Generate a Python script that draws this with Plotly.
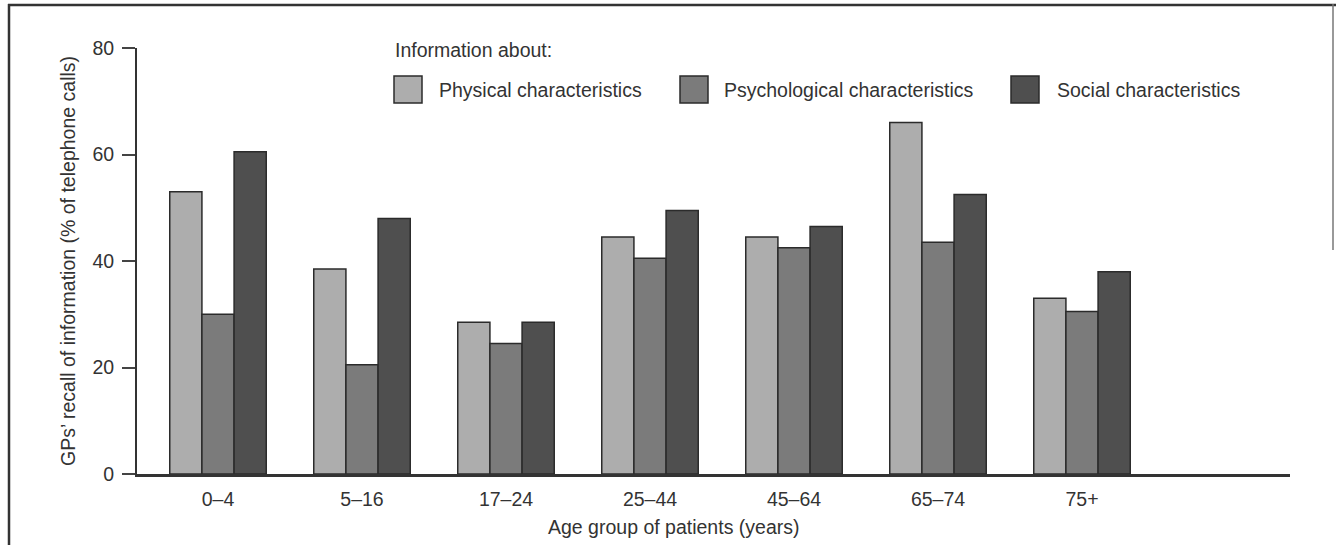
import plotly.graph_objects as go

# ---- data ----
age_groups = ["0–4", "5–16", "17–24", "25–44", "45–64", "65–74", "75+"]
series_names = ["Physical characteristics", "Psychological characteristics", "Social characteristics"]
physical = [53, 38.5, 28.5, 44.5, 44.5, 66, 33]
psychological = [30, 20.5, 24.5, 40.5, 42.5, 43.5, 30.5]
social = [60.5, 48, 28.5, 49.5, 46.5, 52.5, 38]
y_ticks = [0, 20, 40, 60, 80]

series_values = [physical, psychological, social]
fills = ["#adadad", "#7b7b7b", "#4f4f4f"]
edge = "#2b2b2b"
text_col = "#333333"
FONT = "Liberation Sans, Arial, sans-serif"
FS = 19.5

W, H = 1336, 545
# plot area in page pixels
L, R, T, B = 137, 1290, 48, 474


def px(x):
    return (x - L) / (R - L)


def py(y):
    return (B - y) / (B - T)


fig = go.Figure()
for name, vals, col in zip(series_names, series_values, fills):
    fig.add_trace(go.Bar(
        x=list(range(len(age_groups))), y=vals, name=name,
        marker=dict(color=col, line=dict(color=edge, width=1.5)),
        showlegend=False,
    ))

shapes = []
annotations = []

# frame around the figure
shapes.append(dict(type="line", xref="paper", yref="paper", x0=px(9), x1=px(9), y0=py(4), y1=py(545),
                   line=dict(color="#333333", width=2.5)))
shapes.append(dict(type="line", xref="paper", yref="paper", x0=px(8), x1=px(1336), y0=py(5), y1=py(5),
                   line=dict(color="#333333", width=2.5)))
shapes.append(dict(type="line", xref="paper", yref="paper", x0=px(1333), x1=px(1333), y0=py(4), y1=py(250),
                   line=dict(color="#777777", width=1.5)))

# manual legend
annotations.append(dict(text="Information about:", xref="paper", yref="paper", x=px(393), y=py(50),
                        xanchor="left", yanchor="middle", showarrow=False,
                        font=dict(family=FONT, size=FS, color=text_col)))
box_x = [394, 680, 1011]
text_x = [437, 722, 1055]
for name, col, bx, tx in zip(series_names, fills, box_x, text_x):
    shapes.append(dict(type="rect", xref="paper", yref="paper", x0=px(bx), x1=px(bx + 28),
                       y0=py(103), y1=py(76), fillcolor=col, line=dict(color=edge, width=1.5)))
    annotations.append(dict(text=name, xref="paper", yref="paper", x=px(tx), y=py(90),
                            xanchor="left", yanchor="middle", showarrow=False,
                            font=dict(family=FONT, size=FS, color=text_col)))

# axis titles
annotations.append(dict(text="GPs’ recall of information (% of telephone calls)", xref="paper", yref="paper",
                        x=px(68), y=0.5, textangle=-90, xanchor="center", yanchor="middle", showarrow=False,
                        font=dict(family=FONT, size=FS, color=text_col)))
annotations.append(dict(text="Age group of patients (years)", xref="paper", yref="paper",
                        x=px(673), y=py(527), xanchor="center", yanchor="middle", showarrow=False,
                        font=dict(family=FONT, size=FS, color=text_col)))

fig.update_layout(
    width=W, height=H,
    margin=dict(l=L, r=W - R, t=T, b=H - B, pad=0),
    paper_bgcolor="white", plot_bgcolor="white",
    barmode="group", bargap=0.33, bargroupgap=0,
    shapes=shapes, annotations=annotations,
    font=dict(family=FONT, size=FS, color=text_col),
)
fig.update_xaxes(
    range=[(L - 218) / 144, (R - 218) / 144],
    tickmode="array", tickvals=list(range(len(age_groups))), ticktext=age_groups,
    showgrid=False, zeroline=False, showline=True, linecolor="#333333", linewidth=2.5,
    ticks="", ticklabelstandoff=6,
    tickfont=dict(family=FONT, size=FS, color=text_col),
)
fig.update_yaxes(
    range=[0, 80], tickmode="array", tickvals=y_ticks,
    showgrid=False, zeroline=False, showline=True, linecolor="#333333", linewidth=2,
    ticks="outside", ticklen=13, tickwidth=1.5, tickcolor="#444444", ticklabelstandoff=4,
    tickfont=dict(family=FONT, size=FS, color=text_col),
)

fig.write_html("out.html", config={"displayModeBar": False},
               post_script="document.body.style.margin='0';document.body.style.overflow='hidden';")
